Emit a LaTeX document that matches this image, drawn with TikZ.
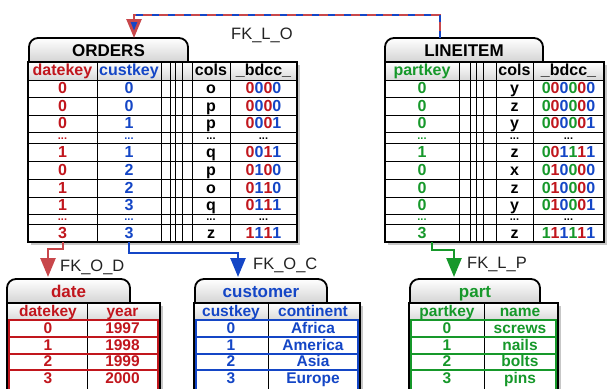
\documentclass[tikz,border=0pt]{standalone}
\usepackage{fontspec}
\setmainfont{Liberation Sans}
\usetikzlibrary{arrows.meta}
\definecolor{KeyRed}{HTML}{C1161D}
\definecolor{KeyBlue}{HTML}{1446C6}
\definecolor{KeyGreen}{HTML}{16982A}
\definecolor{FkRed}{HTML}{C8474B}
\definecolor{FkGray}{HTML}{222222}
\newcommand{\bitR}[1]{\textcolor{KeyRed}{#1}}
\newcommand{\bitB}[1]{\textcolor{KeyBlue}{#1}}
\newcommand{\bitG}[1]{\textcolor{KeyGreen}{#1}}
\newcommand{\obits}[4]{\bitR{#1}\bitB{#2}\bitR{#3}\bitB{#4}}
\newcommand{\lbits}[6]{\bitG{#1}\bitR{#2}\bitB{#3}\bitG{#4}\bitR{#5}\bitB{#6}}

\tikzset{
  tabshape/.style={draw=black, line width=1.8pt, rounded corners=9pt, top color=white, bottom color=black!17},
  headrow/.style={top color=white, bottom color=black!15},
  tblframe/.style={draw=black, line width=1.8pt},
  tblline/.style={draw=black, line width=1pt},
  tblshadow/.style={fill=black!22},
  tabtitle/.style={font=\bfseries\fontsize{17}{19}\selectfont, anchor=base, inner sep=0pt},
  tcell/.style={font=\bfseries\fontsize{16}{18}\selectfont, anchor=base, inner sep=0pt, text height=11.5pt, text depth=0pt},
  scell/.style={font=\bfseries\fontsize{15.5}{17}\selectfont, anchor=base, inner sep=0pt, text height=11pt, text depth=0pt},
  dotcell/.style={font=\bfseries\fontsize{11}{12}\selectfont, anchor=base, inner sep=0pt, text height=2.5pt, text depth=0pt},
  fklabel/.style={font=\fontsize{16.5}{19}\selectfont, text=FkGray, anchor=base west, inner sep=0pt},
  fk/.style={line width=2.5pt, -{Triangle[width=15pt,length=19pt]}},
  redrow/.style={draw=KeyRed, line width=2pt},
  bluerow/.style={draw=KeyBlue, line width=2pt},
  greenrow/.style={draw=KeyGreen, line width=2pt},
}

\begin{document}
\begin{tikzpicture}[x=1pt,y=-1pt]
\useasboundingbox (0,0) rectangle (610,388);

% ORDERS
\fill[tblshadow] (30.5,64.5) rectangle (299.5,244.5);
\fill[white] (28,62) rectangle (297,242);
\draw[tabshape] (29,62) -- (29,38) -- (188,38) -- (188,62);
\node[tabtitle] (ordTitle) at (108.5,56) {ORDERS};
\shade[headrow] (28,62) rectangle (297,80);
\foreach \yy in {80,97.5,115,132.5,143,161,179,197,214,224}
  \draw[tblline] (28,\yy) -- (297,\yy);
\foreach \xx in {97,161,170,175,182,192,230}
  \draw[tblline] (\xx,62) -- (\xx,242);
\draw[tblframe] (28,62) rectangle (297,242);
\node[tcell, text=KeyRed] (ordHdDk) at (62.5,75.5) {datekey};
\node[tcell, text=KeyBlue] (ordHdCk) at (129,75.5) {custkey};
\node[tcell] (ordHdCl) at (211,75.5) {cols};
\node[tcell] (ordHdBd) at (263.5,75.5) {\_bdcc\_};
\foreach \i/\yy/\dk/\ck/\cl/\bits in {
  1/93.5/0/0/o/\obits0000,
  2/111/0/0/p/\obits0000,
  3/128.5/0/1/p/\obits0001,
  4/157/1/1/q/\obits0011,
  5/175/0/2/p/\obits0100,
  6/193/1/2/o/\obits0110,
  7/210/1/3/q/\obits0111,
  8/238/3/3/z/\obits1111}{
  \node[tcell, text=KeyRed] (ord\i dk) at (62.5,\yy) {\dk};
  \node[tcell, text=KeyBlue] (ord\i ck) at (129,\yy) {\ck};
  \node[tcell] (ord\i cl) at (211,\yy) {\cl};
  \node[tcell] (ord\i bd) at (263.5,\yy) {\bits};
}
\foreach \j/\yy in {a/139,b/220.5}{
  \node[dotcell, text=KeyRed] (ordDots\j dk) at (62.5,\yy) {...};
  \node[dotcell, text=KeyBlue] (ordDots\j ck) at (129,\yy) {...};
  \node[dotcell] (ordDots\j cl) at (211,\yy) {...};
  \node[dotcell] (ordDots\j bd) at (263.5,\yy) {...};
}

% LINEITEM
\fill[tblshadow] (387.5,64.5) rectangle (606.5,244.5);
\fill[white] (385,62) rectangle (604,242);
\draw[tabshape] (385,62) -- (385,38) -- (543,38) -- (543,62);
\node[tabtitle] (linTitle) at (464,56) {LINEITEM};
\shade[headrow] (385,62) rectangle (604,80);
\foreach \yy in {80,97.5,115,132.5,143,161,179,197,214,224}
  \draw[tblline] (385,\yy) -- (604,\yy);
\foreach \xx in {459,470,476,483,496,533}
  \draw[tblline] (\xx,62) -- (\xx,242);
\draw[tblframe] (385,62) rectangle (604,242);
\node[tcell, text=KeyGreen] (linHdPk) at (422,75.5) {partkey};
\node[tcell] (linHdCl) at (514.5,75.5) {cols};
\node[tcell] (linHdBd) at (568.5,75.5) {\_bdcc\_};
\foreach \i/\yy/\pk/\cl/\bits in {
  1/93.5/0/y/\lbits000000,
  2/111/0/z/\lbits000000,
  3/128.5/0/y/\lbits000001,
  4/157/1/z/\lbits001111,
  5/175/0/x/\lbits010000,
  6/193/0/z/\lbits010000,
  7/210/0/y/\lbits010001,
  8/238/3/z/\lbits111111}{
  \node[tcell, text=KeyGreen] (lin\i pk) at (422,\yy) {\pk};
  \node[tcell] (lin\i cl) at (514.5,\yy) {\cl};
  \node[tcell] (lin\i bd) at (568.5,\yy) {\bits};
}
\foreach \j/\yy in {a/139,b/220.5}{
  \node[dotcell, text=KeyGreen] (linDots\j pk) at (422,\yy) {...};
  \node[dotcell] (linDots\j cl) at (514.5,\yy) {...};
  \node[dotcell] (linDots\j bd) at (568.5,\yy) {...};
}

% date
\fill[tblshadow] (9.5,305.5) rectangle (162.5,400);
\fill[white] (7,303) rectangle (160,400);
\draw[tabshape] (7,303) -- (7,279) -- (130,279) -- (130,303);
\node[tabtitle, text=KeyRed] (dateTitle) at (68.5,297) {date};
\shade[headrow] (7,303) rectangle (160,320);
\draw[tblline] (87,303) -- (87,400);
\draw[tblframe] (7,303) rectangle (160,400);
\draw[redrow] (9,320) rectangle (158,400);
\foreach \yy in {337,353.5,370}
  \draw[redrow] (9,\yy) -- (158,\yy);
\node[scell, text=KeyRed] (dateHdDk) at (48,316.5) {datekey};
\node[scell, text=KeyRed] (dateHdYr) at (122.5,316.5) {year};
\foreach \i/\yy/\yr in {0/333.5/1997,1/350/1998,2/366.5/1999,3/383.5/2000}{
  \node[scell, text=KeyRed] (date\i dk) at (48,\yy) {\i};
  \node[scell, text=KeyRed] (date\i yr) at (122.5,\yy) {\yr};
}

% customer
\fill[tblshadow] (196.5,305.5) rectangle (362.5,400);
\fill[white] (194,303) rectangle (360,400);
\draw[tabshape] (195,303) -- (195,279) -- (327,279) -- (327,303);
\node[tabtitle, text=KeyBlue] (custTitle) at (261,297) {customer};
\shade[headrow] (194,303) rectangle (360,320);
\draw[tblline] (268,303) -- (268,400);
\draw[tblframe] (194,303) rectangle (360,400);
\draw[bluerow] (196,320) rectangle (358,400);
\foreach \yy in {337,353.5,370}
  \draw[bluerow] (196,\yy) -- (358,\yy);
\node[scell, text=KeyBlue] (custHdCk) at (231,316.5) {custkey};
\node[scell, text=KeyBlue] (custHdCt) at (313,316.5) {continent};
\foreach \i/\yy/\ct in {0/333.5/Africa,1/350/America,2/366.5/Asia,3/383.5/Europe}{
  \node[scell, text=KeyBlue] (cust\i ck) at (231,\yy) {\i};
  \node[scell, text=KeyBlue] (cust\i ct) at (313,\yy) {\ct};
}

% part
\fill[tblshadow] (411.5,305.5) rectangle (560.5,400);
\fill[white] (409,303) rectangle (558,400);
\draw[tabshape] (410,303) -- (410,279) -- (540,279) -- (540,303);
\node[tabtitle, text=KeyGreen] (partTitle) at (475,297) {part};
\shade[headrow] (409,303) rectangle (558,320);
\draw[tblline] (484,303) -- (484,400);
\draw[tblframe] (409,303) rectangle (558,400);
\draw[greenrow] (411,320) rectangle (556,400);
\foreach \yy in {337,353.5,370}
  \draw[greenrow] (411,\yy) -- (556,\yy);
\node[scell, text=KeyGreen] (partHdPk) at (447,316.5) {partkey};
\node[scell, text=KeyGreen] (partHdNm) at (520,316.5) {name};
\foreach \i/\yy/\nm in {0/333.5/screws,1/350/nails,2/366.5/bolts,3/383.5/pins}{
  \node[scell, text=KeyGreen] (part\i pk) at (447,\yy) {\i};
  \node[scell, text=KeyGreen] (part\i nm) at (520,\yy) {\nm};
}

% foreign keys
\coordinate (linOut) at (440,38);
\coordinate (ordIn) at (134,38);
\coordinate (fkloTop) at (0,15);
\draw[fk, FkRed] (linOut) -- (linOut |- fkloTop) -| (ordIn);
\draw[KeyBlue, line width=2.5pt, dash pattern=on 7pt off 9pt,
  -{Triangle[width=6pt,length=9pt]}, shorten >=7pt]
  (linOut) -- (linOut |- fkloTop) -| (ordIn);
\node[fklabel] (fkloLabel) at (231,39) {FK\_L\_O};

\coordinate (ordDkOut) at (63,242);
\coordinate (dateIn) at (48,277);
\draw[fk, FkRed] (ordDkOut) -- ++(0,7) -| (dateIn);
\node[fklabel] (fkodLabel) at (60,271) {FK\_O\_D};

\coordinate (ordCkOut) at (129,242);
\coordinate (custIn) at (238,277);
\draw[fk, KeyBlue] (ordCkOut) -- ++(0,11) -| (custIn);
\node[fklabel] (fkocLabel) at (253,269) {FK\_O\_C};

\coordinate (linPkOut) at (432,242);
\coordinate (partIn) at (454,277);
\draw[fk, KeyGreen] (linPkOut) -- ++(0,8) -| (partIn);
\node[fklabel] (fklpLabel) at (467,268) {FK\_L\_P};
\end{tikzpicture}
\end{document}
